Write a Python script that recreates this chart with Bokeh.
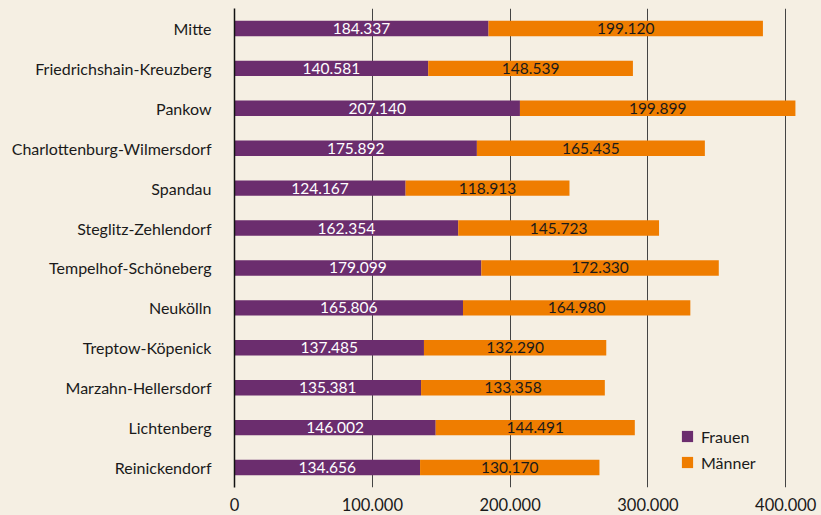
from bokeh.plotting import figure
from bokeh.models import ColumnDataSource, FactorRange, Range1d, FixedTicker, Legend, LegendItem
from bokeh.core.properties import value
from bokeh.embed import file_html
from bokeh.resources import INLINE

districts = ["Mitte", "Friedrichshain-Kreuzberg", "Pankow", "Charlottenburg-Wilmersdorf",
             "Spandau", "Steglitz-Zehlendorf", "Tempelhof-Schöneberg", "Neukölln",
             "Treptow-Köpenick", "Marzahn-Hellersdorf", "Lichtenberg", "Reinickendorf"]
frauen = [184337, 140581, 207140, 175892, 124167, 162354, 179099, 165806, 137485, 135381, 146002, 134656]
maenner = [199120, 148539, 199899, 165435, 118913, 145723, 172330, 164980, 132290, 133358, 144491, 130170]
series_names = ["Frauen", "Männer"]
x_ticks = [0, 100000, 200000, 300000, 400000]

BG = "#f5efe3"
PURPLE = "#6b2d6e"
ORANGE = "#ef7d00"
FONT = "Lato"

def de(v):
    return f"{v:,}".replace(",", ".")

src = ColumnDataSource(dict(
    d=districts, Frauen=frauen, Maenner=maenner,
    f_mid=[f / 2 for f in frauen],
    m_mid=[f + m / 2 for f, m in zip(frauen, maenner)],
    f_lab=[de(v) for v in frauen],
    m_lab=[de(v) for v in maenner],
))

p = figure(width=819, height=513, output_backend="svg", toolbar_location=None,
           y_range=FactorRange(factors=districts[::-1], range_padding=0),
           x_range=Range1d(0, 410000),
           background_fill_color=BG, border_fill_color=BG,
           min_border_left=234, min_border_right=20, min_border_top=8, min_border_bottom=25)
p.outline_line_color = None

r = p.hbar_stack(["Frauen", "Maenner"], y="d", height=0.385, source=src,
                 color=[PURPLE, ORANGE], line_width=0)

p.text(x="f_mid", y="d", text="f_lab", source=src, text_align="center", text_baseline="middle",
       text_color="white", text_font=value(FONT), text_font_size="15.5px")
p.text(x="m_mid", y="d", text="m_lab", source=src, text_align="center", text_baseline="middle",
       text_color="#1a1a1a", text_font=value(FONT), text_font_size="15.5px")

p.xaxis.ticker = FixedTicker(ticks=x_ticks)
p.xaxis.major_label_overrides = {t: de(t) for t in x_ticks}
p.xaxis.axis_line_color = None
p.xaxis.major_tick_line_color = None
p.xaxis.minor_tick_line_color = None
p.xaxis.major_label_standoff = 4
p.xaxis.major_label_text_font = FONT
p.xaxis.major_label_text_font_size = "16.5px"
p.xaxis.major_label_text_color = "#1a1a1a"

p.yaxis.axis_line_color = "#111111"
p.yaxis.axis_line_width = 1.5
p.yaxis.major_tick_line_color = None
p.yaxis.minor_tick_line_color = None
p.yaxis.major_label_standoff = 17
p.yaxis.major_label_text_font = FONT
p.yaxis.major_label_text_font_size = "16px"
p.yaxis.major_label_text_color = "#1a1a1a"

p.ygrid.grid_line_color = None
p.xgrid.grid_line_color = "#444444"
p.xgrid.grid_line_width = 1

legend = Legend(items=[LegendItem(label=series_names[0], renderers=[r[0]]),
                       LegendItem(label=series_names[1], renderers=[r[1]])],
                location=(446, 15), background_fill_alpha=0, border_line_color=None,
                padding=0, margin=0, spacing=6, glyph_width=14, glyph_height=14,
                label_height=20, label_standoff=7,
                label_text_font=FONT, label_text_font_size="16px", label_text_color="#1a1a1a")
p.add_layout(legend)

html = file_html(p, INLINE)
html = html.replace("<body>", '<body style="background:%s">' % BG)
open("out.html", "w").write(html)
